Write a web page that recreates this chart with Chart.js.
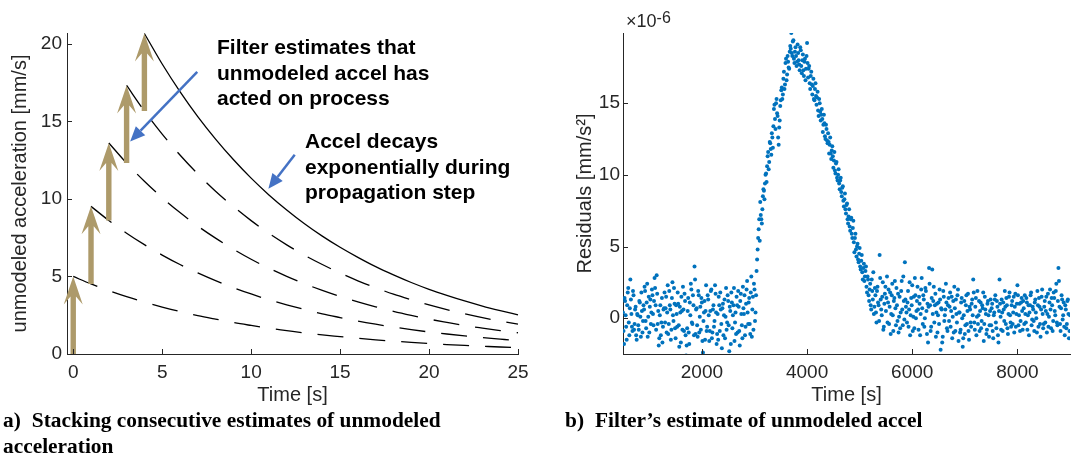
<!DOCTYPE html>
<html>
<head>
<meta charset="utf-8">
<script src="https://cdn.jsdelivr.net/npm/chart.js@4.4.1/dist/chart.umd.min.js"></script>
<style>
  body { margin: 0; background: #fff; width: 1074px; height: 454px; overflow: hidden; position: relative; }
  canvas { position: absolute; top: 0; }
  #accelChart { left: 0; }
  #residChart { left: 540px; }
  .note { position: absolute; font: bold 21px "Liberation Sans", Arial, sans-serif; line-height: 25.5px; color: #000; white-space: nowrap; }
  .cap { position: absolute; font: bold 21.4px "Liberation Serif", "Times New Roman", serif; line-height: 25.5px; color: #000; white-space: nowrap; }
  .cap .tag { margin-right: 11px; }
  .expo { position: absolute; left: 626px; top: 11px; font: 18px "Liberation Sans", Arial, sans-serif; line-height: 20px; color: #262626; }
  .expo sup { font-size: 16px; position: relative; top: -3px; vertical-align: top; line-height: 20px; }
</style>
</head>
<body>
<canvas id="accelChart" width="540" height="454"></canvas>
<canvas id="residChart" width="534" height="454"></canvas>

<div class="note" style="left:217px; top:34px;">Filter estimates that<br>unmodeled accel has<br>acted on process</div>
<div class="note" style="left:305px; top:128px;">Accel decays<br>exponentially during<br>propagation step</div>
<div class="expo">&times;10<sup>-6</sup></div>
<div class="cap" style="left:3px; top:408px;"><span class="tag">a)</span>Stacking consecutive estimates of unmodeled<br>acceleration</div>
<div class="cap" style="left:565px; top:408px;"><span class="tag">b)</span>Filter’s estimate of unmodeled accel</div>

<script>
const axisColor = '#262626';
const tan = '#ad9a6a';
const calloutBlue = '#4472c4';
const dotBlue = '#0072bd';

// ---- a) stacked estimates of unmodeled acceleration ----
const sampleTime = [0, 1, 2, 3, 4, 5, 6, 7, 8, 9, 10, 11, 12, 13, 14, 15, 16, 17, 18, 19, 20, 21, 22, 23, 24, 25];
const decay0 = [5.00, 4.52, 4.09, 3.70, 3.35, 3.03, 2.74, 2.48, 2.25, 2.03, 1.84, 1.66, 1.51, 1.36, 1.23, 1.12, 1.01, 0.91, 0.83, 0.75, 0.68, 0.61, 0.55, 0.50, 0.45, 0.41];
const decay1 = [null, 9.52, 8.61, 7.79, 7.05, 6.38, 5.77, 5.23, 4.73, 4.28, 3.87, 3.50, 3.17, 2.87, 2.59, 2.35, 2.12, 1.92, 1.74, 1.57, 1.42, 1.29, 1.17, 1.06, 0.96, 0.86];
const decay2 = [null, null, 13.61, 12.31, 11.14, 10.08, 9.12, 8.25, 7.47, 6.76, 6.11, 5.53, 5.01, 4.53, 4.10, 3.71, 3.36, 3.04, 2.75, 2.49, 2.25, 2.04, 1.84, 1.67, 1.51, 1.37];
const decay3 = [null, null, null, 17.32, 15.67, 14.18, 12.83, 11.61, 10.50, 9.51, 8.60, 7.78, 7.04, 6.37, 5.77, 5.22, 4.72, 4.27, 3.86, 3.50, 3.16, 2.86, 2.59, 2.34, 2.12, 1.92];
const decay4 = [null, null, null, null, 20.67, 18.70, 16.92, 15.31, 13.86, 12.54, 11.34, 10.26, 9.29, 8.40, 7.60, 6.88, 6.23, 5.63, 5.10, 4.61, 4.17, 3.78, 3.42, 3.09, 2.80, 2.53];

// filter update arrows: time, value before update, value after update
const estTime = [0, 1, 2, 3, 4];
const estBase = [0, 4.52, 8.61, 12.31, 15.67];
const estTop = [5.00, 9.52, 13.61, 17.32, 20.67];

const accelTicksX = [0, 5, 10, 15, 20, 25];
const accelTicksY = [0, 5, 10, 15, 20];

// ---- b) residuals, x1e-6 mm/s^2 ----
// residA sampled at 500, 520, 540 ... s ; residB at 510, 530, 550 ... s
const residStart = 500;
const residStep = 20;
const residA = [
  0.4, -1.8, 1.2, -0.6, 0.9, 2.1, -1.2, 2.7, 0.3, -0.9,
  1.6, -0.4, 0.8, -1.5, 0.2, -0.8, 1.1, -1.3, 0.5, -0.2,
  0.6, 1.9, -0.7, 2.4, 0.1, -1.0, 1.3, 0.4, 1.6, -0.5,
  2.8, 0.9, 3.0, -0.4, -1.9, 0.2, -1.2, 1.4, -0.6, 0.7,
  -0.3, 1.5, 0.4, -1.1, 1.9, 0.6, -0.8, 2.5, -0.2, 1.0,
  -1.4, 0.3, 1.8, -0.5, 0.8, -1.7, 0.5, 2.2, -0.9, 1.2,
  -2.6, -0.7, 1.4, -1.8, 0.2, 2.0, -0.4, 0.9, 3.6, -1.1,
  0.7, -1.3, 1.6, 0.1, -0.8, 1.1, -2.4, 0.4, -1.5, 2.3,
  -0.6, 1.3, -1.6, 0.5, 2.0, -1.0, 0.9, -0.2, 1.7, -1.8,
  0.3, 1.5, -0.9, 0.6, -2.1, 1.0, 0.2, -1.4, 2.1, -0.3,
  1.2, -2.3, 0.5, 1.8, -0.7, 0.9, -1.6, 0.4, 1.5, -1.0,
  0.8, -1.9, 1.7, -0.5, 2.2, 0.3, -1.2, 1.0, 2.6, -0.4,
  1.4, -1.1, 2.9, 0.6, -0.8, 2.0, 0.4, 3.3, 4.8, 6.2,
  5.4, 7.2, 6.6, 8.5, 8.9, 9.4, 10.1, 10.6, 11.6, 10.9,
  12.2, 11.4, 12.6, 13.4, 14.9, 13.2, 15.3, 14.1, 12.1, 13.8,
  15.2, 16.1, 15.6, 17.2, 16.3, 18.1, 17.0, 17.9, 17.4, 19.0,
  19.9, 18.3, 19.4, 17.8, 18.9, 17.6, 19.1, 18.0, 17.3, 18.7,
  17.1, 18.4, 16.9, 18.1, 17.4, 19.2, 16.8, 17.6, 16.0, 17.2,
  15.6, 16.7, 15.2, 16.4, 14.9, 15.8, 14.1, 15.0, 13.8, 14.6,
  13.0, 14.2, 12.7, 13.5, 12.4, 12.9, 11.5, 12.6, 11.1, 12.0,
  10.5, 11.6, 10.1, 10.9, 9.6, 10.4, 9.0, 9.8, 8.5, 9.2,
  7.8, 8.7, 7.3, 8.0, 6.6, 7.6, 6.1, 7.0, 5.6, 6.8,
  4.6, 5.9, 4.3, 5.2, 3.9, 4.9, 3.4, 4.4, 2.7, 3.8,
  2.9, 3.6, 1.8, 2.7, 1.2, 2.4, 0.6, 1.9, 3.2, 0.8,
  1.6, -0.3, 2.2, 0.9, 4.4, 1.3, 0.2, 2.5, -0.6, 1.7,
  0.5, 2.9, 1.1, -0.4, 1.8, 0.3, 2.4, -0.9, 1.4, 0.7,
  2.1, -0.2, -1.0, 1.5, 0.4, 2.6, -0.5, 1.2, 3.9, 0.8,
  -0.3, 1.9, 0.6, -1.2, 1.4, 2.3, 0.1, -0.7, 1.6, 0.5,
  2.2, -0.8, 1.0, 0.3, 2.8, -0.4, 1.3, 0.0, 1.9, -1.1,
  -1.7, 3.5, 0.9, -0.6, 3.4, 1.2, -0.3, 1.7, 0.4, -1.0,
  1.1, 2.0, -2.2, 0.6, -1.3, 1.5, 0.2, 2.4, -0.7, 0.9,
  -0.2, 1.8, 0.5, -1.4, 1.2, 2.2, -0.9, 0.3, 1.6, -1.6,
  0.4, -0.8, 1.4, -2.0, 0.2, -1.1, 0.9, -0.4, 1.7, -1.5,
  0.6, -0.6, 1.3, 2.7, -0.3, 0.8, -1.2, 1.9, 0.2, -0.9,
  1.1, -0.2, 0.7, -1.6, 1.5, 0.3, -0.8, 1.2, -1.3, 0.5,
  -0.5, 1.0, -1.4, 0.4, 1.6, -0.7, 0.8, -1.7, 2.7, 0.1,
  1.3, -0.9, 0.6, 1.9, -0.4, 0.9, -1.1, 1.5, 0.2, -0.6,
  1.2, 0.4, -1.0, 1.7, 0.3, 2.3, -0.5, 1.0, -0.2, 1.4,
  -0.8, 0.7, 1.6, -0.3, 1.1, 0.2, -1.2, 0.9, 1.8, -0.1,
  0.6, -0.9, 1.3, 0.0, 1.9, -0.6, 0.8, -1.3, 1.5, 0.3,
  -0.4, 1.2, 0.5, -1.0, 1.7, 0.1, 2.0, -0.7, 0.9, -0.2,
  1.4, 0.2, 2.4, -0.5, 3.5, 0.8, -0.9, 1.6, -0.1, 1.1,
  -1.2, 0.6, -0.4, 1.3, -1.4, 0.2
];
const residB = [
  -0.9, 1.4, 0.2, -1.5, 1.8, -0.3, 0.7, 1.3, -0.6, 1.9,
  -0.8, 0.6, -1.2, 0.3, -0.5, 1.2, 0.1, 1.8, -1.0, 0.9,
  2.2, -0.2, 1.1, -1.3, 1.5, 0.8, -0.4, 2.0, 0.3, 1.2,
  2.1, -0.8, 1.7, 0.5, -1.4, 0.9, -0.3, -1.7, 0.6, 1.8,
  0.7, -1.0, 2.3, -0.4, 0.9, -1.5, 1.4, 0.2, 2.1, -0.7,
  0.9, -0.6, 1.0, -2.0, 0.4, 1.5, -0.8, 0.6, 1.7, -1.2,
  -1.9, 0.5, -1.0, 1.1, 2.4, -0.3, 1.6, -1.2, 2.7, 0.6,
  -0.5, 1.9, -1.0, 0.8, 1.4, -1.6, -0.2, 1.2, 0.5, -0.9,
  1.6, 0.2, -0.9, 1.9, -1.4, 0.6, -0.6, 2.3, 0.4, -1.1,
  -1.5, 0.9, 1.8, -0.4, 0.7, -1.2, 1.3, 0.1, -0.8, 1.6,
  -0.5, 0.8, -1.8, 1.1, 0.2, 2.1, -0.3, -1.1, 0.9, 1.9,
  -0.9, 1.2, 0.3, -1.4, 0.7, 1.6, -0.6, 2.0, 0.4, 1.1,
  -0.4, 1.8, -1.3, 1.5, 2.4, -0.2, 1.6, 4.1, 5.6, 6.9,
  8.1, 6.9, 7.6, 9.0, 8.3, 10.0, 9.5, 11.3, 10.4, 12.3,
  11.8, 12.9, 11.9, 14.6, 13.9, 15.0, 14.3, 12.6, 13.3, 14.8,
  15.9, 15.3, 16.7, 16.0, 17.8, 16.6, 18.3, 17.5, 18.6, 18.8,
  18.5, 19.3, 18.1, 18.6, 18.3, 17.9, 18.5, 17.7, 18.9, 17.6,
  18.0, 17.3, 17.9, 16.6, 18.3, 17.8, 17.4, 16.4, 16.9, 16.3,
  16.2, 15.3, 16.0, 15.5, 15.4, 14.5, 15.3, 14.4, 14.2, 13.9,
  13.5, 13.6, 12.5, 13.2, 12.2, 12.3, 12.1, 11.5, 11.7, 11.3,
  11.0, 10.3, 10.8, 9.8, 10.0, 9.4, 9.6, 8.8, 9.1, 8.2,
  8.3, 7.6, 7.9, 6.9, 7.1, 6.4, 6.9, 5.9, 6.3, 5.3,
  5.6, 4.8, 5.0, 4.1, 4.5, 3.6, 4.0, 3.2, 3.5, 2.6,
  3.3, 2.2, 2.9, 1.6, 2.0, 0.9, 2.7, 1.3, 0.3, 2.1,
  0.4, 1.9, 1.1, -0.2, 2.8, 0.6, 1.5, -0.8, 1.0, 2.2,
  1.4, -0.3, 2.0, 0.8, -1.1, 1.6, 0.2, 1.2, 2.6, -0.5,
  0.9, 1.7, 0.1, -0.7, 1.9, 0.6, 2.9, -0.1, 1.3, 0.4,
  1.1, -0.6, 2.5, 0.2, 0.9, -0.9, 1.5, 2.8, 0.0, 1.2,
  0.6, 1.5, -1.2, 2.0, 0.7, 1.6, -0.6, 2.1, 0.5, 1.0,
  0.8, 2.4, -0.9, 1.4, 0.3, 2.2, 0.9, -1.3, 1.0, 0.2,
  -0.4, 1.3, 0.7, -1.7, 1.9, -0.2, 0.6, 1.1, -0.9, 1.4,
  0.8, -0.6, 1.5, 0.1, -1.0, 0.7, 1.3, -0.3, 2.0, 0.4,
  -1.0, 1.1, 0.0, -1.4, 1.2, -0.5, 1.6, 0.5, -0.9, 0.8,
  -0.3, 1.0, 0.2, 1.8, -0.8, 1.4, 0.1, -0.4, 1.2, 0.5,
  -0.7, 0.9, 1.8, -0.4, 0.6, -1.1, 1.0, 0.2, -0.5, 1.3,
  0.7, -0.9, 0.2, 1.3, -0.3, 1.2, -1.2, 0.5, 1.0, -0.8,
  0.4, 1.1, -0.2, 0.8, 1.4, -0.7, 0.3, 1.8, -0.3, 0.9,
  -0.4, 1.5, 0.8, -0.6, 1.0, 1.6, 0.2, -0.9, 1.1, 0.5,
  1.2, -0.4, 0.3, 1.4, -0.8, 0.9, 0.4, 1.6, -0.5, 0.8,
  -0.2, 1.1, 0.4, -1.0, 0.9, 1.4, -0.4, 0.6, 2.0, -0.7,
  0.8, -0.3, 1.5, 0.3, -0.6, 1.1, 0.6, 1.4, -0.9, 1.8,
  0.5, 1.9, -0.3, 1.2, 2.6, -0.4, 0.7, 1.3, 0.2, -0.6,
  0.9, -0.7, 1.2, 0.3, -0.9
];

Chart.defaults.font.family = '"Liberation Sans", Arial, sans-serif';
Chart.defaults.color = axisColor;

// MATLAB style: ticks pointing into the axes
const inwardTicks = {
  id: 'inwardTicks',
  afterDraw(chart) {
    const { ctx, chartArea: a, scales: { x, y } } = chart;
    ctx.save();
    ctx.strokeStyle = axisColor;
    ctx.lineWidth = 1;
    ctx.beginPath();
    x.ticks.forEach(t => {
      const px = Math.round(x.getPixelForValue(t.value)) + 0.5;
      ctx.moveTo(px, a.bottom);
      ctx.lineTo(px, a.bottom - 5);
    });
    y.ticks.forEach(t => {
      const py = Math.round(y.getPixelForValue(t.value)) + 0.5;
      ctx.moveTo(a.left, py);
      ctx.lineTo(a.left + 5, py);
    });
    ctx.stroke();
    ctx.restore();
  }
};

// callout arrows, in data units of plot a)
const callouts = [
  { from: [6.97, 18.2], to: [3.2, 13.7] },
  { from: [12.45, 12.85], to: [10.97, 10.65] }
];

const estimateArrows = {
  id: 'estimateArrows',
  afterDatasetsDraw(chart) {
    const { ctx, scales: { x, y } } = chart;
    ctx.save();
    ctx.fillStyle = tan;
    estTime.forEach((t, i) => {
      const px = x.getPixelForValue(t);
      const yb = y.getPixelForValue(estBase[i]);
      const yt = y.getPixelForValue(estTop[i]);
      const sw = 2.7, hw = 9.5, hl = 28, notch = 8;
      ctx.beginPath();
      ctx.moveTo(px - sw, yb);
      ctx.lineTo(px - sw, yt + hl - notch);
      ctx.lineTo(px - hw, yt + hl);
      ctx.lineTo(px, yt);
      ctx.lineTo(px + hw, yt + hl);
      ctx.lineTo(px + sw, yt + hl - notch);
      ctx.lineTo(px + sw, yb);
      ctx.closePath();
      ctx.fill();
    });
    ctx.strokeStyle = calloutBlue;
    ctx.fillStyle = calloutBlue;
    ctx.lineWidth = 2.5;
    callouts.forEach(c => {
      const x0 = x.getPixelForValue(c.from[0]), y0 = y.getPixelForValue(c.from[1]);
      const x1 = x.getPixelForValue(c.to[0]), y1 = y.getPixelForValue(c.to[1]);
      const ang = Math.atan2(y1 - y0, x1 - x0);
      const hl = 15, hw = 6.5;
      const bx = x1 - hl * Math.cos(ang), by = y1 - hl * Math.sin(ang);
      ctx.beginPath();
      ctx.moveTo(x0, y0);
      ctx.lineTo(bx, by);
      ctx.stroke();
      ctx.beginPath();
      ctx.moveTo(x1, y1);
      ctx.lineTo(bx + hw * Math.sin(ang), by - hw * Math.cos(ang));
      ctx.lineTo(bx - hw * Math.sin(ang), by + hw * Math.cos(ang));
      ctx.closePath();
      ctx.fill();
    });
    ctx.restore();
  }
};

function toPoints(values) {
  return sampleTime.map((t, i) => ({ x: t, y: values[i] })).filter(p => p.y !== null);
}

function decayLine(values, dashed) {
  return {
    data: toPoints(values),
    borderColor: '#000',
    borderWidth: 1.3,
    borderDash: dashed ? [26, 16] : [],
    pointRadius: 0,
    cubicInterpolationMode: 'monotone',
    clip: false
  };
}

const tickFont = { size: 19 };
const titleFont = { size: 20 };
const plainNumber = v => String(v);

new Chart(document.getElementById('accelChart'), {
  type: 'line',
  data: {
    datasets: [
      decayLine(decay0, true),
      decayLine(decay1, true),
      decayLine(decay2, true),
      decayLine(decay3, true),
      decayLine(decay4, false)
    ]
  },
  options: {
    responsive: false,
    animation: false,
    layout: { padding: { top: 33, right: 22, left: 0, bottom: 0 } },
    plugins: { legend: { display: false }, tooltip: { enabled: false } },
    scales: {
      x: {
        type: 'linear',
        min: -0.35,
        max: 25,
        afterBuildTicks: s => { s.ticks = accelTicksX.map(v => ({ value: v })); },
        afterFit: s => { s.height = 100; },
        grid: { drawOnChartArea: false, drawTicks: false },
        border: { color: axisColor, width: 1 },
        ticks: { font: tickFont, padding: 7, maxRotation: 0, color: axisColor, callback: plainNumber },
        title: { display: true, text: 'Time [s]', font: titleFont, color: axisColor, padding: { bottom: 47 } }
      },
      y: {
        min: 0,
        max: 20.7,
        afterBuildTicks: s => { s.ticks = accelTicksY.map(v => ({ value: v })); },
        afterFit: s => { s.width = 67; },
        grid: { drawOnChartArea: false, drawTicks: false },
        border: { color: axisColor, width: 1 },
        ticks: { font: tickFont, padding: 5, color: axisColor, callback: plainNumber },
        title: { display: true, text: 'unmodeled acceleration [mm/s]', font: titleFont, color: axisColor, padding: { top: 8 } }
      }
    }
  },
  plugins: [estimateArrows, inwardTicks]
});

const residTicksX = [2000, 4000, 6000, 8000];
const residTicksY = [0, 5, 10, 15];

const residPoints = residA.map((v, i) => ({ x: residStart + i * residStep, y: v }))
  .concat(residB.map((v, i) => ({ x: residStart + residStep / 2 + i * residStep, y: v })));

new Chart(document.getElementById('residChart'), {
  type: 'scatter',
  data: {
    datasets: [{
      data: residPoints,
      backgroundColor: dotBlue,
      borderWidth: 0,
      pointRadius: 2
    }]
  },
  options: {
    responsive: false,
    animation: false,
    layout: { padding: { top: 33, right: 1, left: 0, bottom: 0 } },
    plugins: { legend: { display: false }, tooltip: { enabled: false } },
    scales: {
      x: {
        type: 'linear',
        min: 500,
        max: 9000,
        afterBuildTicks: s => { s.ticks = residTicksX.map(v => ({ value: v })); },
        afterFit: s => { s.height = 100; },
        grid: { drawOnChartArea: false, drawTicks: false },
        border: { color: axisColor, width: 1 },
        ticks: { font: tickFont, padding: 7, maxRotation: 0, color: axisColor, callback: plainNumber },
        title: { display: true, text: 'Time [s]', font: titleFont, color: axisColor, padding: { bottom: 47 } }
      },
      y: {
        min: -2.5,
        max: 19.9,
        afterBuildTicks: s => { s.ticks = residTicksY.map(v => ({ value: v })); },
        afterFit: s => { s.width = 83; },
        grid: { drawOnChartArea: false, drawTicks: false },
        border: { color: axisColor, width: 1 },
        ticks: { font: tickFont, padding: 3, color: axisColor, callback: plainNumber },
        title: { display: true, text: 'Residuals [mm/s²]', font: titleFont, color: axisColor, padding: { top: 33 } }
      }
    }
  },
  plugins: [inwardTicks]
});
</script>
</body>
</html>
